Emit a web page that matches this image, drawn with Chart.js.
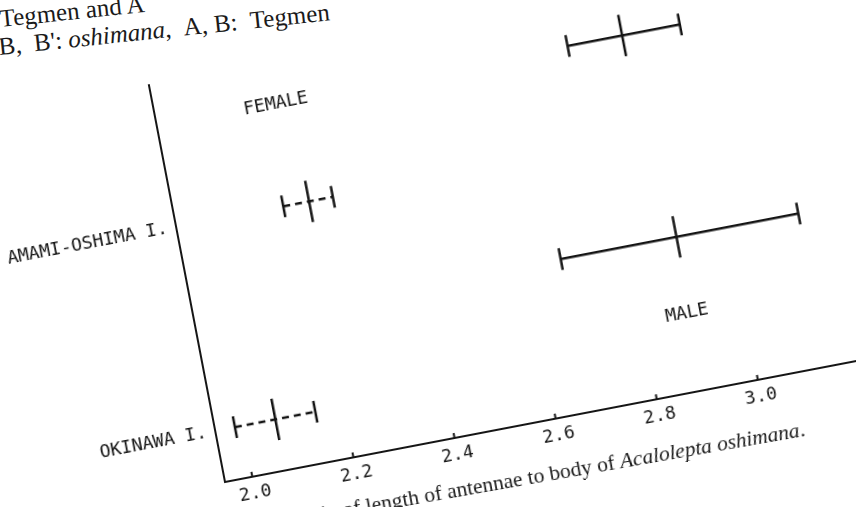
<!DOCTYPE html>
<html>
<head>
<meta charset="utf-8">
<script src="https://cdn.jsdelivr.net/npm/chart.js@4.4.1/dist/chart.umd.min.js"></script>
<style>
  html, body { margin: 0; padding: 0; background: #fff; width: 856px; height: 507px; overflow: hidden; }
  #frame { position: absolute; width: 866px; height: 480px; }
  #frame canvas { position: absolute; left: 0; top: 0; }
  .serif { position: absolute; font-family: "Liberation Serif", serif; color: #1a1a1a; white-space: nowrap; transform-origin: 0 100%; }
  .top { font-size: 25px; line-height: 25px; transform: rotate(-6deg); }
  #caption { font-size: 21.5px; line-height: 23px; transform-origin: 100% 100%; transform: rotate(0.9deg); }
</style>
</head>
<body>
<div class="serif top" style="left:1px; top:6px;">Tegmen and A</div>
<div class="serif top" style="left:0px; top:34px;">B, &nbsp;B': <i>oshimana</i>, &nbsp;A, B: &nbsp;Tegmen</div>
<div id="frame">
  <canvas id="ratioChart" width="866" height="480"></canvas>
  <div id="caption" class="serif">Fig. 3. &nbsp;Ratio of length of antennae to body of <i>Acalolepta oshimana</i>.</div>
</div>
<script>
// ratio of antennae to body
const islands = ['OKINAWA I.', 'AMAMI-OSHIMA I.'];
const femaleMin = [1.985, 2.158];
const femaleMean = [2.065, 2.209];
const femaleMax = [2.144, 2.256];
const maleMin = [2.668, 2.759];
const maleMean = [2.897, 2.867];
const maleMax = [3.138, 2.981];
const xTicks = [2.0, 2.2, 2.4, 2.6, 2.8, 3.0];
const sexLabels = ['FEMALE', 'MALE'];
const sexLabelX = [2.181, 2.889];
const sexLabelY = [3.48, 0.76];

const xMin = 1.946, xMax = 3.2, yMax = 3.89;
const pxPerUnit = 515, pxPerRow = 104;
const ink = '#151515';
const monoFont = { family: 'DejaVu Sans Mono', size: 18 };

function rangeSet(min, mean, max, row, dashed) {
    return {
        data: [{ x: min, y: row }, { x: mean, y: row }, { x: max, y: row }],
        borderColor: ink,
        borderWidth: 2.5,
        borderDash: dashed ? [7, 5] : [],
        pointStyle: 'line',
        rotation: 90,
        pointRadius: [11, 21, 11],
        pointBorderColor: ink,
        pointBorderWidth: 2.5,
        fill: false
    };
}

const datasets = [];
islands.forEach(function(name, i) {
    datasets.push(rangeSet(femaleMin[i], femaleMean[i], femaleMax[i], i * 2 + 0.5, true));
    datasets.push(rangeSet(maleMin[i], maleMean[i], maleMax[i], i * 2 + 1.5, false));
});

const annot = {
    id: 'annot',
    afterDraw(chart) {
        const ctx = chart.ctx;
        const x = chart.scales.x, y = chart.scales.y;
        ctx.save();
        ctx.strokeStyle = ink;
        ctx.lineWidth = 2;
        xTicks.forEach(function(v) {
            const px = x.getPixelForValue(v);
            ctx.beginPath();
            ctx.moveTo(px, y.bottom);
            ctx.lineTo(px, y.bottom - 5);
            ctx.stroke();
        });
        ctx.font = monoFont.size + 'px "' + monoFont.family + '"';
        ctx.fillStyle = ink;
        ctx.textAlign = 'center';
        ctx.textBaseline = 'middle';
        sexLabels.forEach(function(t, i) {
            ctx.fillText(t, x.getPixelForValue(sexLabelX[i]), y.getPixelForValue(sexLabelY[i]));
        });
        ctx.restore();
    }
};

const ctxRatio = document.getElementById('ratioChart').getContext('2d');
const ratioChart = new Chart(ctxRatio, {
    type: 'line',
    data: { datasets: datasets },
    options: {
        responsive: false,
        maintainAspectRatio: false,
        animation: false,
        layout: { padding: { left: 10, top: 10, right: 10, bottom: 24 } },
        plugins: { legend: { display: false }, tooltip: { enabled: false } },
        scales: {
            x: {
                type: 'linear',
                min: xMin,
                max: xMax,
                afterBuildTicks: function(s) { s.ticks = xTicks.map(function(v) { return { value: v }; }); },
                afterFit: function(s) { s.height = 40; },
                ticks: { callback: function(v) { return v.toFixed(1); }, font: monoFont, color: ink, padding: 7, maxRotation: 0, autoSkip: false },
                grid: { display: false, drawTicks: false },
                border: { display: true, color: ink, width: 2 }
            },
            y: {
                type: 'linear',
                min: 0,
                max: yMax,
                afterBuildTicks: function(s) { s.ticks = islands.map(function(n, i) { return { value: i * 2 + 0.5 }; }); },
                afterFit: function(s) { s.width = 200; },
                ticks: { callback: function(v, i) { return islands[i]; }, font: monoFont, color: ink, padding: 9 },
                grid: { display: false, drawTicks: false },
                border: { display: true, color: ink, width: 2 }
            }
        }
    },
    plugins: [annot]
});

// grow the canvas so the plot area gets the scale of the original
let area = ratioChart.chartArea;
const dw = Math.round((xMax - xMin) * pxPerUnit - (area.right - area.left));
const dh = Math.round(yMax * pxPerRow - (area.bottom - area.top));
if (dw || dh) {
    ratioChart.resize(866 + dw, 480 + dh);
    area = ratioChart.chartArea;
}

// tilt the whole figure like the scanned page
const ox = area.left, oy = area.bottom;
const frame = document.getElementById('frame');
frame.style.left = (225 - ox) + 'px';
frame.style.top = (482 - oy) + 'px';
frame.style.transformOrigin = ox + 'px ' + oy + 'px';
frame.style.transform = 'rotate(-10.85deg)';
const caption = document.getElementById('caption');
caption.style.right = (866 + dw - (ox + 582)) + 'px';
caption.style.top = (oy + 65 - 19) + 'px';
</script>
</body>
</html>
